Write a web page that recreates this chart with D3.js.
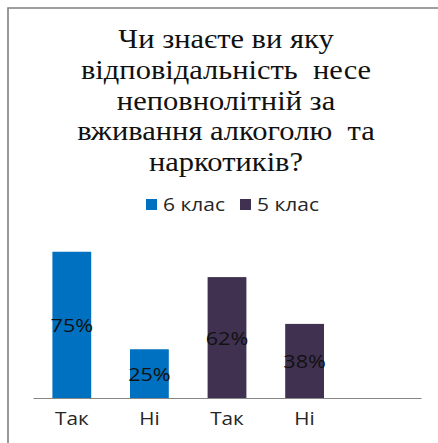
<!DOCTYPE html>
<html>
<head>
<meta charset="utf-8">
<script src="https://cdn.jsdelivr.net/npm/d3@7/dist/d3.min.js"></script>
<style>
html,body{margin:0;padding:0;background:#fff;}
svg{display:block;}
</style>
</head>
<body>
<svg id="chart" width="438" height="443"></svg>
<script>
const titleLines = ["Чи знаєте ви яку", "відповідальність  несе", "неповнолітній за", "вживання алкоголю  та", "наркотиків?"];
const categories = ["Так", "Ні", "Так", "Ні", ""];
const seriesNames = ["6 клас", "5 клас"];
const seriesColors = ["#0070C0", "#403151"];
const grade6 = [75, 25];
const grade5 = [62, 38];

const SERIF = "'Liberation Serif', 'Times New Roman', serif";
const SANS = "'Open Sans', 'Liberation Sans', sans-serif";
const svg = d3.select("#chart");
const SX = 1.2;

// frame (left + top border)
svg.append("path")
  .attr("d", "M8,443 L8,8 L438,8")
  .attr("fill", "none").attr("stroke", "#7f7f7f").attr("stroke-width", 1.6);

// title
titleLines.forEach((t, i) => {
  svg.append("text")
    .style("font-family", SERIF)
    .attr("transform", `translate(226,${48 + i * 30.8}) scale(1.13,1)`)
    .attr("text-anchor", "middle")
    .style("font-size", "27px")
    .attr("fill", "#111")
    .style("white-space", "pre")
    .text(t);
});

// legend
const legX = [146, 240];
seriesNames.forEach((n, i) => {
  svg.append("rect").attr("x", legX[i]).attr("y", 199).attr("width", 11).attr("height", 11).attr("fill", seriesColors[i]);
  svg.append("text").style("font-family", SANS)
    .attr("transform", `translate(${legX[i] + 17},211) scale(${SX},1)`)
    .style("font-size", "17.5px").attr("fill", "#262626").text(n);
});

// scales
const x = d3.scaleBand().domain(d3.range(categories.length)).range([33, 421]).paddingInner(0.5).paddingOuter(0.25);
const y = d3.scaleLinear().domain([0, 80]).range([398, 242]);

const bars = [];
grade6.forEach((v, i) => bars.push({slot: i, value: v, color: seriesColors[0]}));
grade5.forEach((v, i) => bars.push({slot: grade6.length + i, value: v, color: seriesColors[1]}));

svg.append("g").selectAll("rect").data(bars).join("rect")
  .attr("x", d => x(d.slot))
  .attr("y", d => y(d.value))
  .attr("width", x.bandwidth())
  .attr("height", d => y(0) - y(d.value))
  .attr("fill", d => d.color);

svg.append("g").selectAll("text").data(bars).join("text")
  .style("font-family", SANS)
  .attr("transform", d => `translate(${x(d.slot) + x.bandwidth() / 2},${(y(d.value) + y(0)) / 2 + 7}) scale(1.2,1)`)
  .attr("text-anchor", "middle")
  .style("font-size", "18px")
  .attr("fill", "#111")
  .text(d => d.value + "%");

// axis
const axis = svg.append("g").attr("transform", "translate(0,398)")
  .call(d3.axisBottom(x).tickSize(0).tickSizeOuter(0).tickFormat(i => categories[i]).tickPadding(14));
axis.select(".domain").attr("stroke", "#868686").attr("stroke-width", 1.2);
axis.selectAll("text").attr("font-family", null).style("font-family", SANS).style("font-size", "18px").attr("fill", "#262626")
  .attr("transform", `scale(1.15,1)`);
</script>
</body>
</html>
